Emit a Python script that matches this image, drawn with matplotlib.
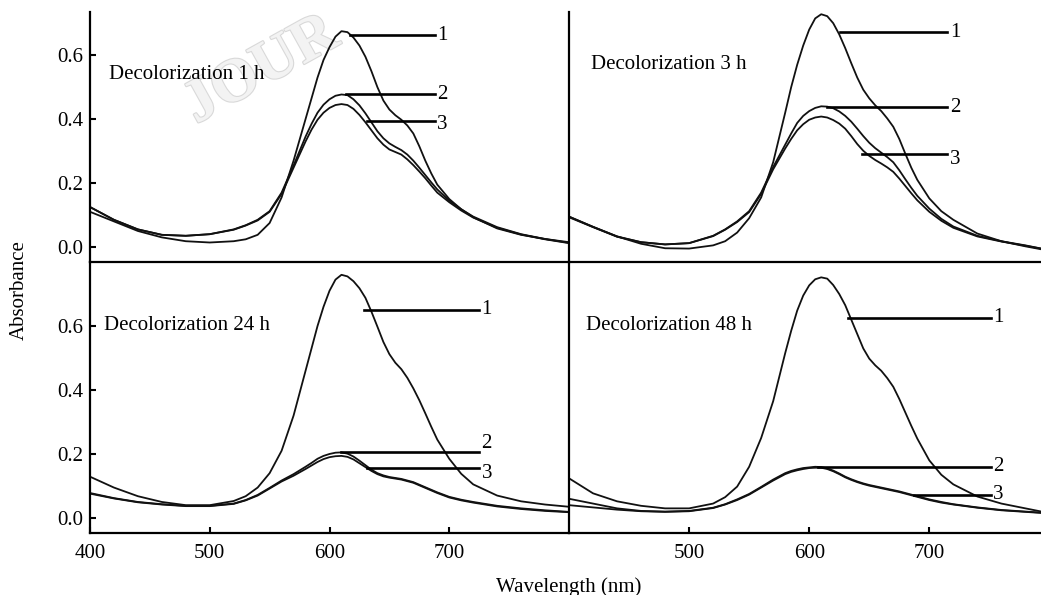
import matplotlib
matplotlib.use("Agg")
import matplotlib.pyplot as plt
import matplotlib.patheffects as pe

plt.rcParams['font.family'] = ['Liberation Serif', 'DejaVu Serif']

# wavelength grid (nm) used for all read-off spectra
wl = [400, 420, 440, 460, 480, 500, 520, 530, 540, 550, 560, 570, 580, 585, 590, 595,
      600, 605, 610, 615, 620, 625, 630, 635, 640, 645, 650, 655, 660, 665, 670, 675,
      680, 685, 690, 700, 710, 720, 740, 760, 780, 800]

# Decolorization 1 h
h1_c1 = [0.110, 0.080, 0.050, 0.030, 0.018, 0.014, 0.018, 0.024, 0.038, 0.075, 0.155, 0.270,
         0.400, 0.465, 0.530, 0.585, 0.625, 0.658, 0.675, 0.672, 0.655, 0.630, 0.595, 0.550,
         0.500, 0.458, 0.430, 0.412, 0.398, 0.380, 0.355, 0.315, 0.270, 0.230, 0.195, 0.150,
         0.118, 0.093, 0.058, 0.038, 0.025, 0.015]
h1_c2 = [0.125, 0.085, 0.055, 0.038, 0.035, 0.040, 0.055, 0.068, 0.085, 0.112, 0.170, 0.255,
         0.345, 0.385, 0.420, 0.445, 0.462, 0.473, 0.477, 0.475, 0.462, 0.443, 0.418, 0.390,
         0.362, 0.340, 0.324, 0.313, 0.303, 0.289, 0.270, 0.248, 0.225, 0.202, 0.180, 0.145,
         0.118, 0.095, 0.062, 0.040, 0.025, 0.013]
h1_c3 = [0.125, 0.085, 0.055, 0.038, 0.035, 0.040, 0.054, 0.067, 0.083, 0.110, 0.166, 0.248,
         0.330, 0.367, 0.398, 0.420, 0.435, 0.444, 0.447, 0.444, 0.432, 0.413, 0.390, 0.365,
         0.340, 0.320, 0.305, 0.297, 0.289, 0.274, 0.256, 0.236, 0.215, 0.192, 0.170, 0.140,
         0.114, 0.092, 0.060, 0.039, 0.024, 0.012]

# Decolorization 3 h
h3_c1 = [0.095, 0.063, 0.033, 0.010, -0.004, -0.005, 0.005, 0.018, 0.045, 0.090, 0.155, 0.265,
         0.420, 0.500, 0.570, 0.630, 0.680, 0.715, 0.728, 0.722, 0.700, 0.665, 0.622, 0.575,
         0.530, 0.492, 0.465, 0.443, 0.425, 0.402, 0.376, 0.338, 0.292, 0.248, 0.210, 0.152,
         0.112, 0.085, 0.042, 0.018, 0.002, -0.012]
h3_c2 = [0.095, 0.063, 0.033, 0.015, 0.008, 0.012, 0.035, 0.055, 0.080, 0.112, 0.170, 0.250,
         0.320, 0.355, 0.388, 0.410, 0.425, 0.435, 0.440, 0.439, 0.434, 0.424, 0.410, 0.392,
         0.370, 0.347, 0.326, 0.309, 0.295, 0.281, 0.265, 0.240, 0.212, 0.185, 0.160, 0.120,
         0.088, 0.064, 0.035, 0.018, 0.005, -0.010]
h3_c3 = [0.093, 0.062, 0.032, 0.015, 0.008, 0.012, 0.034, 0.054, 0.078, 0.109, 0.166, 0.243,
         0.308, 0.338, 0.365, 0.384, 0.398, 0.405, 0.408, 0.405, 0.397, 0.386, 0.370, 0.347,
         0.322, 0.301, 0.285, 0.272, 0.261, 0.249, 0.235, 0.214, 0.191, 0.168, 0.146, 0.110,
         0.082, 0.060, 0.033, 0.017, 0.004, -0.010]

# Decolorization 24 h
h24_c1 = [0.129, 0.095, 0.068, 0.050, 0.040, 0.040, 0.053, 0.068, 0.095, 0.140, 0.210, 0.320,
          0.460, 0.530, 0.600, 0.660, 0.710, 0.745, 0.760, 0.755, 0.740, 0.718, 0.688, 0.645,
          0.598, 0.550, 0.512, 0.485, 0.465, 0.438, 0.405, 0.368, 0.327, 0.285, 0.245, 0.185,
          0.138, 0.105, 0.070, 0.052, 0.042, 0.035]
h24_c2 = [0.078, 0.062, 0.050, 0.043, 0.038, 0.038, 0.045, 0.056, 0.072, 0.094, 0.117, 0.137,
          0.160, 0.172, 0.185, 0.194, 0.200, 0.204, 0.205, 0.201, 0.192, 0.179, 0.165, 0.151,
          0.140, 0.133, 0.128, 0.125, 0.122, 0.117, 0.112, 0.104, 0.096, 0.088, 0.080, 0.066,
          0.057, 0.050, 0.038, 0.030, 0.024, 0.019]
h24_c3 = [0.076, 0.061, 0.049, 0.042, 0.037, 0.037, 0.044, 0.055, 0.070, 0.092, 0.114, 0.132,
          0.153, 0.164, 0.175, 0.184, 0.190, 0.193, 0.194, 0.191, 0.183, 0.171, 0.159, 0.147,
          0.137, 0.130, 0.126, 0.123, 0.120, 0.115, 0.110, 0.102, 0.094, 0.086, 0.078, 0.064,
          0.055, 0.048, 0.036, 0.028, 0.022, 0.018]

# Decolorization 48 h
h48_c1 = [0.124, 0.077, 0.052, 0.038, 0.030, 0.030, 0.045, 0.065, 0.098, 0.160, 0.250, 0.365,
          0.515, 0.585, 0.648, 0.695, 0.727, 0.746, 0.752, 0.748, 0.728, 0.700, 0.665, 0.620,
          0.575, 0.530, 0.498, 0.477, 0.460, 0.437, 0.410, 0.372, 0.330, 0.288, 0.248, 0.180,
          0.135, 0.105, 0.067, 0.045, 0.030, 0.015]
h48_c2 = [0.060, 0.045, 0.030, 0.022, 0.020, 0.022, 0.032, 0.043, 0.058, 0.075, 0.097, 0.120,
          0.140, 0.147, 0.152, 0.156, 0.158, 0.160, 0.159, 0.155, 0.148, 0.139, 0.129, 0.121,
          0.114, 0.108, 0.103, 0.099, 0.095, 0.091, 0.087, 0.083, 0.078, 0.073, 0.068, 0.058,
          0.050, 0.043, 0.033, 0.025, 0.020, 0.015]
h48_c3 = [0.040, 0.033, 0.026, 0.021, 0.019, 0.021, 0.031, 0.042, 0.056, 0.073, 0.095, 0.117,
          0.137, 0.144, 0.149, 0.153, 0.156, 0.157, 0.157, 0.153, 0.146, 0.137, 0.127, 0.119,
          0.112, 0.106, 0.101, 0.097, 0.093, 0.089, 0.085, 0.081, 0.076, 0.071, 0.066, 0.056,
          0.048, 0.042, 0.032, 0.024, 0.019, 0.014]

titles = ["Decolorization 1 h", "Decolorization 3 h",
          "Decolorization 24 h", "Decolorization 48 h"]
curve_labels = ["1", "2", "3"]

# leader lines: (x start, x end, y) per curve label
leaders_1h = [(617, 688, 0.662), (614, 688, 0.478), (631, 688, 0.394)]
leaders_3h = [(626, 715, 0.672), (615, 715, 0.437), (644, 715, 0.290)]
leaders_24h = [(629, 725, 0.650), (610, 725, 0.206), (631, 725, 0.156)]
leaders_48h = [(632, 751, 0.625), (607, 751, 0.160), (687, 751, 0.072)]

fig = plt.figure(figsize=(10.41, 5.95), dpi=100)
L, M, R = 90 / 1041, 569 / 1041, 1.0
YB, YM, YT = 1 - 533 / 595, 1 - 262 / 595, 1 - 12 / 595

# faint journal watermark, behind the transparent axes
fig.text(196 / 1041, 1 - 124 / 595, "JOUR", fontsize=44, color='#f3f3f3',
         rotation=29, rotation_mode='anchor', ha='left', va='baseline',
         fontweight='bold', zorder=-5,
         path_effects=[pe.withStroke(linewidth=1.6, foreground='#d9d9d9')])

ax1 = fig.add_axes([L, YM, M - L, YT - YM])
ax2 = fig.add_axes([M, YM, R - M, YT - YM])
ax3 = fig.add_axes([L, YB, M - L, YM - YB])
ax4 = fig.add_axes([M, YB, R - M, YM - YB])

panels = [
    (ax1, [h1_c1, h1_c2, h1_c3], leaders_1h, (416, 0.54), [0, 0, -0.012]),
    (ax2, [h3_c1, h3_c2, h3_c3], leaders_3h, (418, 0.57), [0, 0, -0.015]),
    (ax3, [h24_c1, h24_c2, h24_c3], leaders_24h, (412, 0.60), [0, 0.028, -0.016]),
    (ax4, [h48_c1, h48_c2, h48_c3], leaders_48h, (414, 0.60), [0, 0, 0]),
]

for i, (ax, curves, leaders, tpos, ldy) in enumerate(panels):
    ax.patch.set_alpha(0)
    for c in curves:
        ax.plot(wl, c, color='#111111', lw=1.3, solid_joinstyle='round')
    for (x0, x1, y), lab, dy in zip(leaders, curve_labels, ldy):
        ax.plot([x0, x1], [y, y], color='black', lw=1.9)
        ax.text(x1 + 2, y + dy, lab, fontsize=15, ha='left', va='center')
    ax.text(tpos[0], tpos[1], titles[i], fontsize=15, ha='left', va='center')

    ax.spines['top'].set_visible(False)
    ax.spines['right'].set_visible(False)
    ax.spines['left'].set_linewidth(1.6)
    ax.spines['bottom'].set_linewidth(1.6)
    ax.tick_params(direction='in', length=4, width=1.5, labelsize=15)
    ax.tick_params(axis='x', pad=8)
    ax.tick_params(axis='y', pad=5)

for ax in (ax1, ax3):
    ax.set_xlim(400, 800)
for ax in (ax2, ax4):
    ax.set_xlim(400, 793)
for ax in (ax1, ax2):
    ax.set_ylim(-0.047, 0.735)
    ax.set_xticks([])
for ax in (ax3, ax4):
    ax.set_ylim(-0.047, 0.80)
for ax in (ax1, ax3):
    ax.set_yticks([0.0, 0.2, 0.4, 0.6])
    ax.set_yticklabels(["0.0", "0.2", "0.4", "0.6"])
for ax in (ax2, ax4):
    ax.set_yticks([])
ax3.set_xticks([400, 500, 600, 700])
ax4.set_xticks([500, 600, 700])

fig.text(19 / 1041, 1 - 290 / 595, "Absorbance", rotation=90, fontsize=15,
         ha='center', va='center')
fig.text(569 / 1041, 1 - 587 / 595, "Wavelength (nm)", fontsize=15,
         ha='center', va='center')

fig.savefig("out.png", dpi=100)
